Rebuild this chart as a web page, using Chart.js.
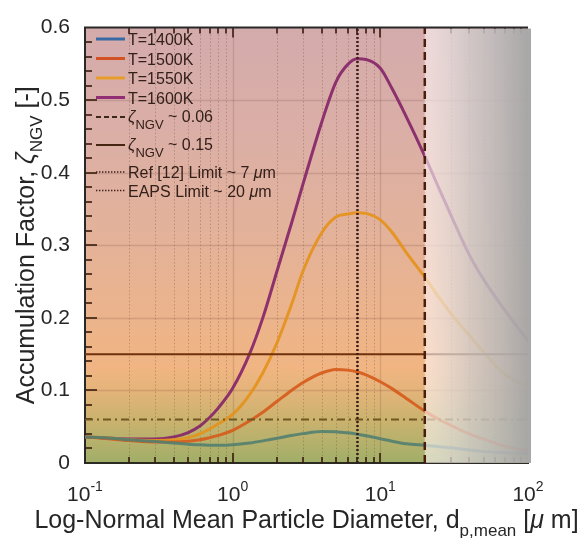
<!DOCTYPE html>
<html>
<head>
<meta charset="utf-8">
<script src="https://cdn.jsdelivr.net/npm/chart.js@4.4.1/dist/chart.umd.min.js"></script>
<style>html,body{margin:0;padding:0;background:#fff}</style>
</head>
<body>
<canvas id="chart" width="581" height="538"></canvas>
<script>
// particle diameter (um) and accumulation factor
const diameters = [0.1, 0.15, 0.2, 0.3, 0.4, 0.5, 0.6, 0.7, 0.8, 1, 1.3, 1.6, 2, 2.5, 3, 4, 5, 6, 7, 8, 10, 12, 15, 20, 25, 30, 40, 50, 70, 100];
const zeta1400 = [0.036, 0.034, 0.032, 0.0295, 0.0275, 0.026, 0.025, 0.0245, 0.0243, 0.025, 0.0275, 0.0305, 0.034, 0.0378, 0.0405, 0.0435, 0.0432, 0.0416, 0.0396, 0.0375, 0.0335, 0.030, 0.0265, 0.0243, 0.0225, 0.021, 0.018, 0.016, 0.014, 0.013];
const zeta1500 = [0.036, 0.033, 0.031, 0.029, 0.029, 0.030, 0.032, 0.035, 0.038, 0.045, 0.058, 0.070, 0.085, 0.100, 0.111, 0.124, 0.129, 0.128, 0.1255, 0.1215, 0.112, 0.1025, 0.089, 0.0715, 0.060, 0.052, 0.040, 0.033, 0.023, 0.016];
const zeta1550 = [0.036, 0.034, 0.032, 0.031, 0.032, 0.035, 0.040, 0.047, 0.054, 0.067, 0.094, 0.124, 0.166, 0.218, 0.265, 0.317, 0.339, 0.343, 0.345, 0.344, 0.335, 0.318, 0.290, 0.256, 0.228, 0.206, 0.176, 0.153, 0.122, 0.105];
const zeta1600 = [0.036, 0.034, 0.033, 0.033, 0.036, 0.042, 0.051, 0.063, 0.076, 0.103, 0.150, 0.200, 0.265, 0.330, 0.385, 0.469, 0.525, 0.549, 0.557, 0.556, 0.544, 0.516, 0.477, 0.423, 0.378, 0.342, 0.287, 0.253, 0.210, 0.168];
const seriesNames = ['T=1400K', 'T=1500K', 'T=1550K', 'T=1600K'];
const zetaLevels = [0.06, 0.15];
const limitDiameters = [7, 20];
const limitNames = ['Ref [12] Limit ~ 7 ', 'EAPS Limit ~ 20 '];
const xTickValues = [0.1, 1, 10, 100];
const xTickPowers = ['-1', '0', '1', '2'];
const yRange = [0, 0.6];

const FONT = '"Liberation Sans", Arial, sans-serif';
const lineColors = ['rgba(82,128,112,0.9)', 'rgba(214,92,28,0.92)', 'rgba(228,146,28,0.92)', 'rgba(136,42,106,0.95)'];
const legendColors = ['rgb(58,106,165)', 'rgb(210,82,36)', 'rgb(230,156,42)', 'rgb(146,46,116)'];

function pts(values) {
    return diameters.map((d, i) => ({ x: d, y: values[i] }))
}

// draws a run of text pieces, some raised or lowered
function drawRuns(ctx, runs, x, y, align) {
    let total = 0
    runs.forEach(r => {
        ctx.font = (r.italic ? 'italic ' : '') + r.size + 'px ' + FONT
        r.w = ctx.measureText(r.t).width
        total += r.w
    })
    let cx = align === 'center' ? x - total / 2 : x
    runs.forEach(r => {
        ctx.font = (r.italic ? 'italic ' : '') + r.size + 'px ' + FONT
        ctx.fillText(r.t, cx, y + (r.dy || 0))
        cx += r.w
    })
    return total
}

let overlayDone = false

const backdrop = {
    id: 'backdrop',
    beforeDraw(chart) {
        const { ctx, chartArea: a, scales: { y } } = chart
        ctx.save()
        ctx.fillStyle = '#fff'
        ctx.fillRect(0, 0, chart.width, chart.height)
        const g = ctx.createLinearGradient(0, a.top, 0, a.bottom)
        const stops = [[0.6, 'rgb(212,171,172)'], [0.45, 'rgb(219,175,166)'], [0.3, 'rgb(228,178,152)'], [0.2, 'rgb(236,180,140)'],
            [0.13, 'rgb(240,181,130)'], [0.1, 'rgb(228,180,122)'], [0.06, 'rgb(203,178,110)'], [0.03, 'rgb(182,177,108)'], [0, 'rgb(160,174,104)']]
        stops.forEach(([v, c]) => g.addColorStop((y.getPixelForValue(v) - a.top) / (a.bottom - a.top), c))
        ctx.fillStyle = g
        ctx.fillRect(a.left, a.top, a.right - a.left, a.bottom - a.top)
        ctx.restore()
    },
    beforeDatasetsDraw(chart) {
        overlayDone = false
        const { ctx, chartArea: a, scales: { x, y } } = chart
        ctx.save()
        // grid
        ctx.strokeStyle = 'rgba(90,45,35,0.16)'
        ctx.lineWidth = 1.5
        for (let v = 0.1; v < 0.59; v += 0.1) {
            const py = Math.round(y.getPixelForValue(v)) + 0.5
            ctx.beginPath(); ctx.moveTo(a.left, py); ctx.lineTo(a.right, py); ctx.stroke()
        }
        for (let e = -1; e < 2; e++) {
            for (let m = 1; m < 10; m++) {
                const v = m * Math.pow(10, e)
                const px = Math.round(x.getPixelForValue(v)) + 0.5
                if (m === 1) {
                    if (e === -1) continue
                    ctx.setLineDash([])
                    ctx.strokeStyle = 'rgba(90,45,35,0.16)'
                    ctx.lineWidth = 1.3
                } else {
                    ctx.setLineDash([1.5, 2])
                    ctx.strokeStyle = 'rgba(90,45,35,0.28)'
                    ctx.lineWidth = 1
                }
                ctx.beginPath(); ctx.moveTo(px, a.top); ctx.lineTo(px, a.bottom); ctx.stroke()
            }
        }
        ctx.setLineDash([])
        // inward ticks
        ctx.strokeStyle = 'rgba(55,28,12,0.8)'
        ctx.lineWidth = 2
        for (let i = 1; i < 30; i++) {
            const v = i * 0.02
            const py = Math.round(y.getPixelForValue(v))
            const len = i % 5 === 0 ? 12 : 7
            ctx.beginPath(); ctx.moveTo(a.left, py); ctx.lineTo(a.left + len, py); ctx.stroke()
        }
        for (let e = -1; e < 2; e++) {
            for (let m = 1; m < 10; m++) {
                if (e === -1 && m === 1) continue
                const px = Math.round(x.getPixelForValue(m * Math.pow(10, e)))
                const len = m === 1 ? 10 : 6
                ctx.beginPath(); ctx.moveTo(px, a.bottom); ctx.lineTo(px, a.bottom - len); ctx.stroke()
                ctx.beginPath(); ctx.moveTo(px, a.top); ctx.lineTo(px, a.top + len); ctx.stroke()
            }
        }
        ctx.restore()
    },
    beforeDatasetDraw(chart, args) {
        if (overlayDone || !chart.data.datasets[args.index].limitLine) return
        overlayDone = true
        // faded zone beyond the EAPS limit
        const { ctx, chartArea: a, scales: { x } } = chart
        const x0 = x.getPixelForValue(limitDiameters[1])
        const x1 = a.right + 3
        const g = ctx.createLinearGradient(x0, 0, x1, 0)
        g.addColorStop(0, 'rgba(255,248,248,0.6)')
        g.addColorStop(0.45, 'rgba(206,203,203,0.8)')
        g.addColorStop(1, 'rgba(164,164,164,0.97)')
        ctx.save()
        ctx.fillStyle = g
        ctx.fillRect(x0, a.top + 1, x1 - x0, a.bottom - a.top - 1)
        ctx.restore()
    },
    afterDraw(chart) {
        const { ctx, chartArea: a, scales: { x } } = chart
        ctx.save()
        // top frame line
        ctx.strokeStyle = 'rgb(40,40,40)'
        ctx.lineWidth = 2
        ctx.beginPath(); ctx.moveTo(a.left - 1, a.top); ctx.lineTo(a.right, a.top); ctx.stroke()

        ctx.fillStyle = 'rgb(38,38,38)'
        ctx.textBaseline = 'alphabetic'
        // x tick labels as powers of ten
        xTickValues.forEach((v, i) => {
            drawRuns(ctx, [{ t: '10', size: 21 }, { t: xTickPowers[i], size: 14, dy: -10 }], x.getPixelForValue(v), 501, 'center')
        })
        // axis titles
        drawRuns(ctx, [{ t: 'Log-Normal Mean Particle Diameter, d', size: 25 }, { t: 'p,mean', size: 17, dy: 8 },
            { t: ' [', size: 25 }, { t: '\u03bc', size: 25, italic: true }, { t: ' m]', size: 25 }], (a.left + a.right) / 2, 528, 'center')
        ctx.save()
        ctx.translate(34, (a.top + a.bottom) / 2)
        ctx.rotate(-Math.PI / 2)
        drawRuns(ctx, [{ t: 'Accumulation Factor, ', size: 25 }, { t: '\u03b6', size: 25, italic: true }, { t: 'NGV', size: 17, dy: 8 },
            { t: ' [-]', size: 25 }], 0, 0, 'center')
        ctx.restore()

        // legend
        const lx0 = 96, lx1 = 125, tx = 128
        ctx.fillStyle = 'rgb(52,32,26)'
        const rowsY = [39, 58.5, 78, 97.5]
        seriesNames.forEach((name, i) => {
            ctx.strokeStyle = legendColors[i]
            ctx.lineWidth = 3
            ctx.setLineDash([])
            ctx.beginPath(); ctx.moveTo(lx0, rowsY[i]); ctx.lineTo(lx1, rowsY[i]); ctx.stroke()
            drawRuns(ctx, [{ t: name, size: 16 }], tx, rowsY[i] + 6)
        })
        const zRows = [[117, [5, 3], 'rgb(58,40,26)'], [145, [], 'rgb(70,38,18)']]
        zetaLevels.forEach((z, i) => {
            const [ry, dash, col] = zRows[i]
            ctx.strokeStyle = col
            ctx.lineWidth = 2
            ctx.setLineDash(dash)
            ctx.beginPath(); ctx.moveTo(lx0, ry); ctx.lineTo(lx1, ry); ctx.stroke()
            drawRuns(ctx, [{ t: '\u03b6', size: 16, italic: true }, { t: 'NGV', size: 13, dy: 7 }, { t: ' ~ ' + z.toFixed(2), size: 16 }], tx, ry + 5)
        })
        const dRows = [172, 190.5]
        limitNames.forEach((name, i) => {
            ctx.strokeStyle = 'rgb(60,32,30)'
            ctx.lineWidth = 1.6
            ctx.setLineDash([1.4, 1.6])
            ctx.beginPath(); ctx.moveTo(lx0, dRows[i]); ctx.lineTo(lx1, dRows[i]); ctx.stroke()
            drawRuns(ctx, [{ t: name, size: 16 }, { t: '\u03bc', size: 16, italic: true }, { t: 'm', size: 16 }], tx, dRows[i] + 6)
        })
        ctx.restore()
    }
}

const curveSets = [zeta1400, zeta1500, zeta1550, zeta1600].map((vals, i) => ({
    label: seriesNames[i],
    data: pts(vals),
    borderColor: lineColors[i],
    borderWidth: 3,
    cubicInterpolationMode: 'monotone',
    pointRadius: 0,
    order: 3
}))

const levelSets = [
    { label: 'zeta 0.06', data: [{ x: 0.1, y: zetaLevels[0] }, { x: 100, y: zetaLevels[0] }], borderColor: 'rgb(112,86,32)', borderWidth: 2, borderDash: [8, 4, 2, 4], pointRadius: 0, order: 2 },
    { label: 'zeta 0.15', data: [{ x: 0.1, y: zetaLevels[1] }, { x: 100, y: zetaLevels[1] }], borderColor: 'rgb(112,50,12)', borderWidth: 2, pointRadius: 0, order: 2 }
]

const limitSets = [
    { label: 'limit 7', limitLine: true, data: [{ x: limitDiameters[0], y: yRange[0] }, { x: limitDiameters[0], y: yRange[1] }], borderColor: 'rgb(58,30,28)', borderWidth: 2.5, borderDash: [2, 2], pointRadius: 0, order: 1 },
    { label: 'limit 20', limitLine: true, data: [{ x: limitDiameters[1], y: yRange[0] }, { x: limitDiameters[1], y: yRange[1] }], borderColor: 'rgb(72,30,12)', borderWidth: 2.5, borderDash: [8, 5], pointRadius: 0, order: 1 }
]

new Chart(document.getElementById('chart'), {
    type: 'line',
    data: { datasets: [...curveSets, ...levelSets, ...limitSets] },
    options: {
        responsive: false,
        animation: false,
        devicePixelRatio: 1,
        layout: { padding: { top: 19, right: 53, left: 0, bottom: 0 } },
        plugins: { legend: { display: false }, tooltip: { enabled: false } },
        scales: {
            x: {
                type: 'logarithmic',
                min: 0.1,
                max: 100,
                grid: { display: false, drawTicks: false },
                border: { display: true, color: 'rgb(44,44,34)', width: 2 },
                ticks: { display: false },
                afterFit: s => { s.height = 75 }
            },
            y: {
                min: yRange[0],
                max: yRange[1],
                grid: { display: false, drawTicks: false },
                border: { display: true, color: 'rgb(40,40,40)', width: 2 },
                ticks: { stepSize: 0.1, padding: 15, color: 'rgb(38,38,38)', font: { family: FONT, size: 21 } },
                afterFit: s => { s.width = 85 }
            }
        }
    },
    plugins: [backdrop]
})
</script>
</body>
</html>
